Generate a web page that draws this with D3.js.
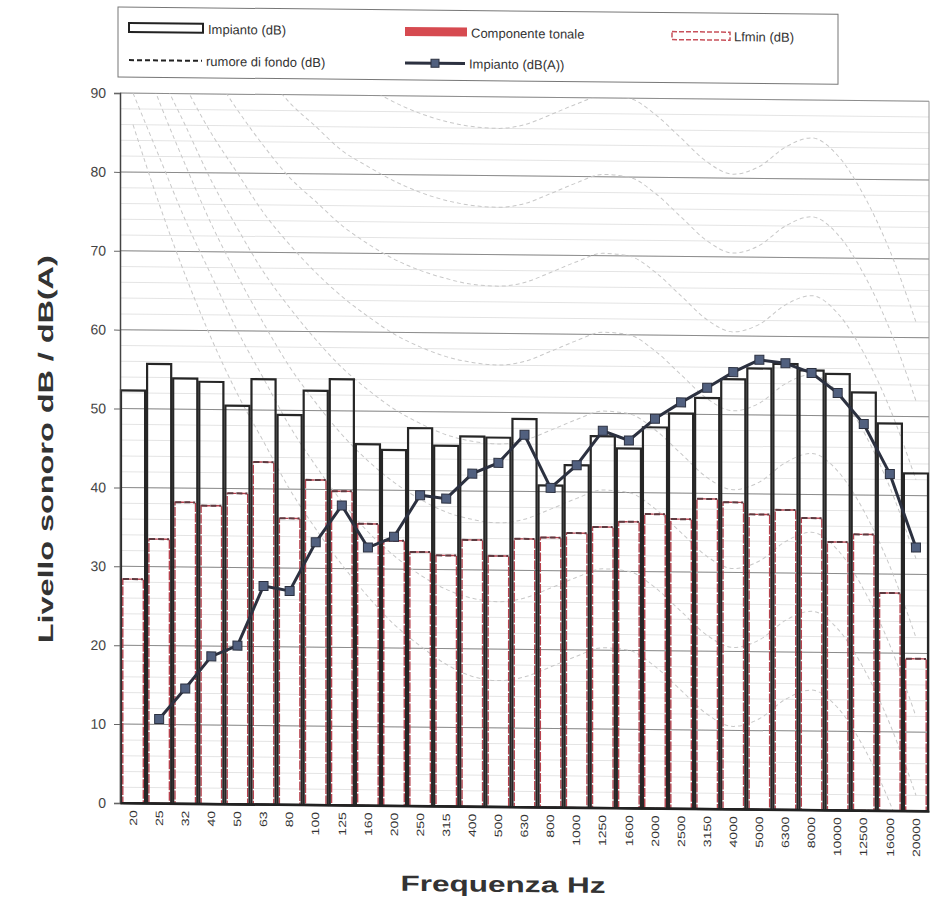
<!DOCTYPE html>
<html><head><meta charset="utf-8">
<script src="https://cdn.jsdelivr.net/npm/d3@7"></script>
<style>body{margin:0;background:#fff}svg{display:block;font-family:"Liberation Sans",Arial,sans-serif}</style>
</head><body><svg id="c" width="931" height="902"></svg>
<script>
// ---- data ----
const freqs = ["20","25","32","40","50","63","80","100","125","160","200","250","315","400","500","630","800","1000","1250","1600","2000","2500","3150","4000","5000","6300","8000","10000","12500","16000","20000"];
const impiantoDB = [52.3,55.7,53.9,53.5,50.5,53.9,49.4,52.5,54.0,45.8,45.1,47.9,45.7,46.9,46.8,49.2,40.8,43.4,47.1,45.6,48.3,50.1,52.1,54.5,55.9,56.5,55.7,55.3,53.0,49.1,42.8];
const lfminDB = [28.4,33.5,38.2,37.8,39.4,43.4,36.3,41.2,39.8,35.7,33.6,32.2,31.8,33.8,31.8,34.0,34.2,34.8,35.6,36.3,37.3,36.7,39.3,38.9,37.4,38.0,37.0,34.0,35.0,27.6,19.3];
const impiantoDBA = [null,10.7,14.6,18.7,20.1,27.7,27.1,33.3,38.0,32.7,34.1,39.4,39.0,42.2,43.6,47.2,40.5,43.4,47.8,46.6,49.4,51.5,53.4,55.4,57.0,56.6,55.4,52.9,49.0,42.7,33.4];
const rumoreFondoDB = [0,0,0,0,0,0,0,0,0,0,0,0,0,0,0,0,0,0,0,0,0,0,0,0,0,0,0,0,0,0,0];
const componenteTonale = [];
const yTicks = [0,10,20,30,40,50,60,70,80,90];
// faint background isophonic curves (values per frequency band)
const curve86 = [126,121,116,112,108,103,99,96,93,91,89.2,87.8,86.8,86.2,86,86.5,87.8,89.2,90.3,90,88,85,82,80.5,81.5,84,85.2,83,78,71,62];
const curve76 = [116,111,106,102,98,93,89,86,83,81,79.2,77.8,76.8,76.2,76,76.5,77.8,79.2,80.3,80,78,75,72,70.5,71.5,74,75.2,73,68,61,52];
const curve66 = [111,104,98,93,88,83.5,79.5,76.5,73.5,71.2,69.3,67.9,66.9,66.2,66,66.5,67.8,69.2,70.3,70,68,65,62,60.5,61.5,64,65.2,63,58,51,42];
const curve56 = [106,98,91,85,80,75,71,67.5,64.5,62,59.8,58.2,57,56.3,56,56.5,57.8,59.2,60.3,60,58,55,52,50.5,51.5,54,55.2,53,48,41,32];
const curve46 = [102,93,86,79,73,67.5,63,59,55.5,52.7,50.3,48.5,47.1,46.3,46,46.5,47.8,49.2,50.3,50,48,45,42,40.5,41.5,44,45.2,43,38,31,22];
const curve36 = [98,89,81,73.5,67,61,55.5,51,47,43.7,41,38.9,37.3,36.4,36,36.5,37.8,39.2,40.3,40,38,35,32,30.5,31.5,34,35.2,33,28,21,12];
const curve26 = [90,82,74,67,60,54,48,43,38.5,34.7,31.7,29.3,27.5,26.4,26,26.5,27.8,29.2,30.3,30,28,25,22,20.5,21.5,24,25.2,23,18,11,2];
const curve16 = [86,76,67,59,52,46,40,35,30.5,26.5,23,20.3,18,16.5,16,16.5,17.8,19.2,20.3,20,18,15,12,10.5,11.5,14,15.2,13,8,1,-8];
const bgCurves = [curve86,curve76,curve66,curve56,curve46,curve36,curve26,curve16];

// ---- chart ----
const svg = d3.select("#c");
const root = svg.append("g").attr("transform","translate(120,803) skewY(0.58) translate(-120,-803)");
const x = d3.scaleBand().domain(freqs).range([120,929]).padding(0);
const y = d3.scaleLinear().domain([0,90]).range([803,93]);
const bw = x.bandwidth();
const cx = f => x(f) + bw/2;

svg.append("defs").append("clipPath").attr("id","plot")
  .append("rect").attr("x",120).attr("y",93).attr("width",809).attr("height",710);

// minor gridlines
root.append("g").selectAll("line").data(y.ticks(45)).join("line")
  .attr("x1",120).attr("x2",929).attr("y1",d=>y(d)).attr("y2",d=>y(d))
  .attr("stroke","#e4e4e4").attr("stroke-width",1);
// major gridlines
root.append("g").selectAll("line").data(yTicks).join("line")
  .attr("x1",120).attr("x2",929).attr("y1",d=>y(d)).attr("y2",d=>y(d))
  .attr("stroke","#8c8c8c").attr("stroke-width",1);
// right frame
root.append("line").attr("x1",929).attr("x2",929).attr("y1",y(90)).attr("y2",y(0)).attr("stroke","#999");

// background curves
const cl = d3.line().x((d,i)=>cx(freqs[i])).y(d=>y(d)).curve(d3.curveMonotoneX);
root.append("g").attr("clip-path","url(#plot)").selectAll("path").data(bgCurves).join("path")
  .attr("d",cl).attr("fill","none").attr("stroke","#c8c8c8").attr("stroke-width",1).attr("stroke-dasharray","4,3");

// Lfmin bars (red dashed outline)
const lf = root.append("g");
lf.selectAll("rect").data(lfminDB).join("rect")
  .attr("x",(d,i)=>x(freqs[i])+2.8).attr("width",bw-5.6)
  .attr("y",d=>y(d)).attr("height",d=>y(0)-y(d))
  .attr("fill","none").attr("stroke","#b8424e").attr("stroke-width",1.4).attr("stroke-dasharray","9,1.5");
lf.selectAll("line").data(lfminDB).join("line")
  .attr("x1",(d,i)=>x(freqs[i])+3).attr("x2",(d,i)=>x(freqs[i])+bw-3)
  .attr("y1",d=>y(d)).attr("y2",d=>y(d))
  .attr("stroke","#5e3a40").attr("stroke-width",2).attr("stroke-dasharray","6,3");

// Impianto dB bars
root.append("g").selectAll("rect").data(impiantoDB).join("rect")
  .attr("x",(d,i)=>x(freqs[i])+1).attr("width",bw-2)
  .attr("y",d=>y(d)).attr("height",d=>y(0)-y(d))
  .attr("fill","none").attr("stroke","#262626").attr("stroke-width",2.2);

// rumore di fondo (at zero)
root.append("path").datum(rumoreFondoDB)
  .attr("d",d3.line().x((d,i)=>x(freqs[i])).y(d=>y(d)).curve(d3.curveStepAfter))
  .attr("fill","none").attr("stroke","#222").attr("stroke-width",2);

// axes
const ya = root.append("g").attr("transform","translate(120,0)")
  .call(d3.axisLeft(y).tickValues(yTicks).tickSize(6).tickPadding(8));
ya.select(".domain").attr("stroke","#444").attr("stroke-width",1.5);
ya.selectAll(".tick line").attr("stroke","#666");
ya.selectAll("text").attr("font-size",14).attr("fill","#444").attr("font-family","Liberation Sans, Arial, sans-serif");

const xa = root.append("g").attr("transform","translate(0,803)")
  .call(d3.axisBottom(x).tickSize(0));
xa.select(".domain").attr("stroke","#222").attr("stroke-width",2);
xa.selectAll("text").attr("transform","rotate(-90)").attr("x",-7).attr("y",0).attr("dy","0.35em")
  .attr("text-anchor","end").attr("font-size",10.5).attr("fill","#333")
  .attr("font-family","Liberation Sans, Arial, sans-serif")
  .attr("textLength",d=>d.length*7.8).attr("lengthAdjust","spacingAndGlyphs");

// Impianto dB(A) line + markers
const la = d3.line().defined(d=>d!=null).x((d,i)=>cx(freqs[i])).y(d=>y(d));
root.append("path").datum(impiantoDBA).attr("d",la)
  .attr("fill","none").attr("stroke","#2c3140").attr("stroke-width",3);
root.append("g").selectAll("rect").data(impiantoDBA.map((v,i)=>({v,f:freqs[i]})).filter(d=>d.v!=null)).join("rect")
  .attr("x",d=>cx(d.f)-4.5).attr("y",d=>y(d.v)-4.5).attr("width",9).attr("height",9)
  .attr("fill","#51607f").attr("stroke","#2c3140").attr("stroke-width",1);

// axis titles
root.append("text").attr("transform","translate(53,450) rotate(-90)")
  .attr("text-anchor","middle").attr("font-size",21).attr("font-weight","bold").attr("fill","#333")
  .attr("textLength",388).attr("lengthAdjust","spacingAndGlyphs")
  .text("Livello sonoro dB / dB(A)");
root.append("text").attr("x",503).attr("y",888)
  .attr("text-anchor","middle").attr("font-size",22).attr("font-weight","bold").attr("fill","#333")
  .attr("textLength",205).attr("lengthAdjust","spacingAndGlyphs")
  .text("Frequenza Hz");

// legend
const lg = root.append("g");
lg.append("rect").attr("x",118).attr("y",7).attr("width",720).attr("height",70)
  .attr("fill","#fff").attr("stroke","#777").attr("stroke-width",1);
lg.append("rect").attr("x",129).attr("y",23).attr("width",74).attr("height",9)
  .attr("fill","#fff").attr("stroke","#222").attr("stroke-width",2);
lg.append("text").attr("x",208).attr("y",33).text("Impianto (dB)");
lg.append("rect").attr("x",405).attr("y",24).attr("width",62).attr("height",9).attr("fill","#d64a50");
lg.append("text").attr("x",471).attr("y",34).text("Componente tonale");
lg.append("rect").attr("x",672).attr("y",26).attr("width",58).attr("height",8)
  .attr("fill","#fff").attr("stroke","#c8505a").attr("stroke-width",1.5).attr("stroke-dasharray","5,2");
lg.append("text").attr("x",734).attr("y",35).text("Lfmin (dB)");
lg.append("line").attr("x1",129).attr("x2",202).attr("y1",60).attr("y2",60)
  .attr("stroke","#222").attr("stroke-width",2).attr("stroke-dasharray","5,3");
lg.append("text").attr("x",206).attr("y",65).text("rumore di fondo (dB)");
lg.append("line").attr("x1",405).attr("x2",465).attr("y1",60).attr("y2",60)
  .attr("stroke","#2c3140").attr("stroke-width",3);
lg.append("rect").attr("x",431).attr("y",56).attr("width",8).attr("height",8)
  .attr("fill","#51607f").attr("stroke","#2c3140");
lg.append("text").attr("x",469).attr("y",65).text("Impianto (dB(A))");
lg.selectAll("text").attr("font-size",13).attr("fill","#333");
</script></body></html>
